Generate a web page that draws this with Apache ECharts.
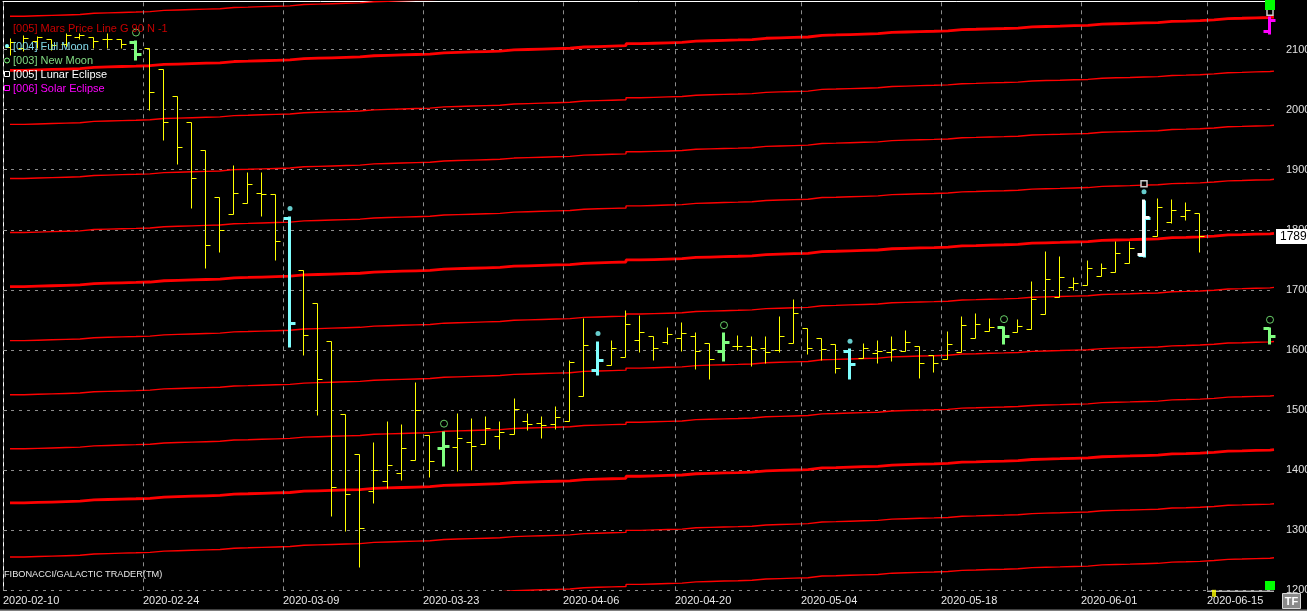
<!DOCTYPE html>
<html><head><meta charset="utf-8">
<script src="https://cdn.jsdelivr.net/npm/echarts@6/dist/echarts.min.js"></script>
<style>html,body{margin:0;padding:0;background:#000;}#c{width:1307px;height:611px;}</style>
</head><body><div id="c"></div>
<script>
// ---- trading-day slots (one per bar) ----
const dates = [
 '2020-02-10','2020-02-11','2020-02-12','2020-02-13','2020-02-14',
 '2020-02-17','2020-02-18','2020-02-19','2020-02-20','2020-02-21',
 '2020-02-24','2020-02-25','2020-02-26','2020-02-27','2020-02-28',
 '2020-03-02','2020-03-03','2020-03-04','2020-03-05','2020-03-06',
 '2020-03-09','2020-03-10','2020-03-11','2020-03-12','2020-03-13',
 '2020-03-16','2020-03-17','2020-03-18','2020-03-19','2020-03-20',
 '2020-03-23','2020-03-24','2020-03-25','2020-03-26','2020-03-27',
 '2020-03-30','2020-03-31','2020-04-01','2020-04-02','2020-04-03',
 '2020-04-06','2020-04-07','2020-04-08','2020-04-09',
 '2020-04-14','2020-04-15','2020-04-16','2020-04-17',
 '2020-04-20','2020-04-21','2020-04-22','2020-04-23','2020-04-24',
 '2020-04-27','2020-04-28','2020-04-29','2020-04-30',
 '2020-05-04','2020-05-05','2020-05-06','2020-05-07','2020-05-08',
 '2020-05-11','2020-05-12','2020-05-13','2020-05-14','2020-05-15',
 '2020-05-18','2020-05-19','2020-05-20','2020-05-21','2020-05-22',
 '2020-05-25','2020-05-26','2020-05-27','2020-05-28','2020-05-29',
 '2020-06-01','2020-06-02','2020-06-03','2020-06-04','2020-06-05',
 '2020-06-08','2020-06-09','2020-06-10','2020-06-12',
 '2020-06-15','2020-06-16','2020-06-17','2020-06-18','2020-06-19'
];
const tickLabels = ['2020-02-10','2020-02-24','2020-03-09','2020-03-23','2020-04-06',
  '2020-04-20','2020-05-04','2020-05-18','2020-06-01','2020-06-15'];
const yTicks = {min:1200, max:2180, step:100};

// ---- OHLC bars ----
const opens = [2105,2103,2114,2117,2110,2121,2121,2117,2117,2113,
 2103,2067,2023,1980,1933,1854,1827,1845,1862,1860,
 1820,1733,1678,1615,1493,1427,1365,1382,1395,1417,
 1458,1437,1438,1447,1443,1457,1460,1482,1478,1477,
 1482,1523,1567,1575,1588,1617,1623,1613,1620,1623,
 1611,1598,1606,1607,1603,1600,1612,1637,1620,1610,
 1598,1586,1595,1597,1598,1607,1592,1585,1597,1620,
 1632,1638,1630,1635,1660,1689,1705,1708,1723,1730,
 1745,1759,1789,1813,1823,1828];
const highs = [2119,2125,2123,2118,2127,2128,2121,2127,2118,2115,
 2103,2067,2023,1980,1933,1854,1908,1896,1896,1860,
 1822,1733,1678,1615,1493,1427,1447,1482,1477,1547,
 1458,1464,1495,1487,1490,1482,1520,1495,1490,1507,
 1583,1653,1614,1616,1667,1659,1623,1638,1647,1630,
 1611,1628,1625,1623,1623,1656,1685,1637,1620,1610,
 1601,1611,1616,1624,1634,1607,1592,1632,1656,1662,
 1654,1638,1651,1714,1764,1756,1722,1749,1744,1782,
 1782,1850,1853,1852,1846,1828];
const lows = [2091,2098,2102,2099,2104,2118,2102,2102,2102,2085,
 1999,1950,1910,1837,1737,1763,1827,1845,1823,1750,
 1606,1591,1491,1323,1299,1238,1346,1371,1384,1417,
 1389,1409,1398,1401,1443,1435,1460,1467,1454,1468,
 1482,1523,1560,1575,1588,1596,1584,1610,1599,1568,
 1551,1584,1600,1573,1579,1597,1611,1594,1584,1561,
 1553,1586,1578,1581,1598,1554,1563,1585,1597,1620,
 1632,1612,1630,1635,1660,1689,1699,1708,1723,1730,
 1745,1758,1789,1811,1816,1763];
const closes = [2112,2120,2121,2108,2124,2125,2114,2117,2109,2093,
 2030,1980,1937,1886,1775,1800,1862,1877,1859,1781,
 1645,1625,1552,1372,1360,1303,1400,1408,1437,1500,
 1415,1440,1453,1440,1470,1463,1502,1477,1475,1488,
 1580,1608,1583,1603,1643,1630,1603,1626,1628,1598,
 1585,1614,1607,1602,1596,1623,1662,1604,1602,1570,
 1577,1603,1598,1602,1613,1579,1578,1610,1642,1644,
 1638,1624,1640,1685,1718,1722,1712,1737,1737,1762,
 1770,1822,1838,1833,1833,1789];

// ---- astro events (slot indices) ----
const fullMoonIdx = [20, 42, 60, 81];
const newMoonIdx = [9, 31, 51, 71];
const lunarEclipseIdx = [81];
// projected event bars at the right edge: [slot, open, high, low, close]
const futureSolarBar = [90, 2131, 2155, 2128, 2149];
const futureNewMoonBar = [90, 1637, 1637, 1611, 1624];
const futureLunarMark = [90, 2162];
const currentSlot = 86;
const lastPrice = 1789;

// ---- Mars price line (Mars longitude + 4*360), one value per slot ----
const marsLine = [1705.5,1706.2,1706.9,1707.6,1708.3,1710.4,1711.1,1711.8,1712.4,1713.1,
 1715.2,1715.9,1716.6,1717.3,1718.0,1720.1,1720.7,1721.4,1722.1,1722.8,
 1724.9,1725.6,1726.3,1727.0,1727.7,1729.7,1730.4,1731.1,1731.8,1732.5,
 1734.6,1735.3,1736.0,1736.7,1737.4,1739.4,1740.1,1740.8,1741.5,1742.2,
 1744.3,1745.0,1745.7,1746.4,1749.8,1750.5,1751.2,1751.9,1754.0,1754.7,
 1755.4,1756.0,1756.7,1758.8,1759.5,1760.2,1760.9,1763.7,1764.3,1765.0,
 1765.7,1766.4,1768.5,1769.2,1769.9,1770.5,1771.2,1773.2,1773.8,1774.5,
 1775.1,1775.8,1777.7,1778.4,1779.0,1779.7,1780.3,1782.3,1783.0,1783.6,
 1784.3,1784.9,1786.9,1787.5,1788.2,1789.5,1791.5,1792.1,1792.8,1793.4,1794.1];
const marsOffsets = [-540,-450,-360,-270,-180,-90,0,90,180,270,360,450];

// ---- layout ----
const GRID_LEFT = 3, GRID_RIGHT_X = 1274, SLOT_W = 14;
const X_MAX = (GRID_RIGHT_X - GRID_LEFT) / SLOT_W;
const FONT = "'Liberation Sans', Arial, sans-serif";

const KIND_STYLE = {
  0: {color:'#ffff00', width:1, tick:5},
  1: {color:'#80ffff', width:3, tick:6},
  2: {color:'#80ff80', width:3, tick:6},
  3: {color:'#ffffff', width:3, tick:6, under:'#80ffff'},
  4: {color:'#ff00ff', width:3, tick:6}
};
function kindOf(i){
  if (lunarEclipseIdx.includes(i)) return 3;
  if (fullMoonIdx.includes(i)) return 1;
  if (newMoonIdx.includes(i)) return 2;
  return 0;
}
const ohlcData = opens.map((o,i)=>[i+0.5, o, highs[i], lows[i], closes[i], kindOf(i)]);
ohlcData.push([futureSolarBar[0]+0.5, futureSolarBar[1], futureSolarBar[2], futureSolarBar[3], futureSolarBar[4], 4]);
ohlcData.push([futureNewMoonBar[0]+0.5, futureNewMoonBar[1], futureNewMoonBar[2], futureNewMoonBar[3], futureNewMoonBar[4], 2]);

function renderItem(params, api){
  const x = api.value(0);
  const st = KIND_STYLE[api.value(5)];
  const pH = api.coord([x, api.value(2)]), pL = api.coord([x, api.value(3)]);
  const pO = api.coord([x, api.value(1)]), pC = api.coord([x, api.value(4)]);
  const snap = v => Math.round(v) + 0.5;
  const cx = snap(pH[0] - 0.5);
  const yh = snap(pH[1]), yl = snap(pL[1]), yo = snap(pO[1]), yc = snap(pC[1]);
  const w = st.width, t = st.tick, ext = w > 1 ? 1 : 0;
  const mk = (dx, dy, color) => [
    {type:'line', shape:{x1:cx+dx, y1:yh+dy-ext, x2:cx+dx, y2:yl+dy+ext}, style:{stroke:color, lineWidth:w}},
    {type:'line', shape:{x1:cx+dx-t, y1:yo+dy, x2:cx+dx, y2:yo+dy}, style:{stroke:color, lineWidth:w}},
    {type:'line', shape:{x1:cx+dx, y1:yc+dy, x2:cx+dx+t, y2:yc+dy}, style:{stroke:color, lineWidth:w}}
  ];
  let children = [];
  if (st.under) children = children.concat(mk(1, 1, st.under));
  children = children.concat(mk(0, 0, st.color));
  return {type:'group', children};
}

const marsSeries = marsOffsets.map(off => {
  const pts = marsLine.map((v,i)=>[i+0.5, v+off]);
  pts.push([X_MAX, marsLine[marsLine.length-1]+off]);
  const thick = off % 360 === 0;
  return {
    type:'line', data:pts, step:'end', symbol:'none', z:2, silent:true,
    lineStyle:{color:'#ff0000', width: thick ? 2.8 : 1.4}
  };
});

const chart = echarts.init(document.getElementById('c'), null, {renderer:'canvas'});
chart.setOption({
  backgroundColor:'#000000',
  animation:false,
  grid:{left:GRID_LEFT, right:1307-GRID_RIGHT_X, top:1.5, bottom:20.7, containLabel:false, outerBoundsMode:'none'},
  xAxis:[{
    type:'value', min:0, max:X_MAX, interval:1,
    axisLine:{show:false}, axisTick:{show:false}, splitLine:{show:false},
    axisLabel:{
      show:true, align:'left', margin:5, color:'#e8e8e8', fontSize:11, fontFamily:FONT,
      showMaxLabel:false, hideOverlap:false,
      formatter:(v)=>{
        const i = Math.round(v);
        if (Math.abs(v-i) > 1e-6) return '';
        const d = dates[i];
        return tickLabels.includes(d) ? d : '';
      }
    }
  },{
    type:'value', min:0, max:X_MAX, position:'top',
    axisLine:{show:true, lineStyle:{color:'#ffffff', width:1}},
    axisTick:{show:false}, axisLabel:{show:false}, splitLine:{show:false}
  }],
  yAxis:{
    type:'value', position:'right', min:yTicks.min, max:yTicks.max, interval:yTicks.step,
    axisLine:{show:true, lineStyle:{color:'#ffffff', width:1}},
    axisTick:{show:true, length:4, lineStyle:{color:'#a0a0a0'}},
    axisLabel:{color:'#e0e0e0', fontSize:11, fontFamily:FONT, margin:12, showMaxLabel:false,
      formatter:(v)=>String(v)},
    splitLine:{show:true, lineStyle:{color:'#8c8c8c', type:[3,5], width:1}}
  },
  series:[
    {
      type:'line', z:1, clip:false, symbol:'none', silent:true,
      data:[[currentSlot, 1198.5],[X_MAX, 1198.5]],
      lineStyle:{color:'#ffffff', width:1},
      markLine:{
        silent:true, symbol:['none','none'], animation:false,
        data: tickLabels.map(d => ({
          xAxis: dates.indexOf(d),
          lineStyle:{color:'#8c8c8c', type:[4,4], width:1},
          label:{show:false}
        }))
      }
    },
    {
      type:'line', z:6, clip:false, symbol:'none', silent:true,
      data:[[0, lastPrice],[X_MAX, lastPrice]],
      lineStyle:{color:'rgba(0,0,0,0)', width:0},
      endLabel:{show:true, formatter:String(lastPrice), distance:2,
        color:'#000000', backgroundColor:'#ffffff', padding:[2,6,1,4],
        fontSize:12, fontFamily:FONT}
    },
    ...marsSeries,
    {
      type:'custom', z:3, renderItem, data:ohlcData, encode:{x:0, y:[2,3]}, silent:true, clip:false
    },
    {
      type:'scatter', z:4, silent:true, clip:false,
      data: fullMoonIdx.map(i => [i+0.5, highs[i]]),
      symbol:'circle', symbolSize:5, symbolOffset:[0,-8],
      itemStyle:{color:'#80ffff'}
    },
    {
      type:'scatter', z:4, silent:true, clip:false,
      data: newMoonIdx.map(i => [i+0.5, highs[i]]).concat([[futureNewMoonBar[0]+0.5, futureNewMoonBar[2]]]),
      symbol:'circle', symbolSize:7, symbolOffset:[0,-8],
      itemStyle:{color:'rgba(0,0,0,0)', borderColor:'#80ff80', borderWidth:1}
    },
    {
      type:'scatter', z:5, silent:true, clip:false,
      data: lunarEclipseIdx.map(i => ({value:[i+0.5, highs[i]], symbolOffset:[0,-16]}))
        .concat([{value:[futureLunarMark[0]+0.5, futureLunarMark[1]], symbolOffset:[0,0]}]),
      symbol:'rect', symbolSize:6,
      itemStyle:{color:'#000000', borderColor:'#ffffff', borderWidth:1.5}
    },
    {
      type:'scatter', z:5, silent:true, clip:false,
      data:[[currentSlot+0.5, yTicks.min]],
      symbol:'rect', symbolSize:[4,7], symbolOffset:[0,3],
      itemStyle:{color:'#ffff00'}
    }
  ],
  graphic:[
    {type:'text', x:13, y:28.5, z:10, style:{text:'[005] Mars Price Line G 90 N -1', fill:'#c80000', font:'11px '+FONT, verticalAlign:'middle'}},
    {type:'circle', z:10, shape:{cx:7, cy:46, r:2}, style:{fill:'#80ffff'}},
    {type:'text', x:13, y:46.5, z:10, style:{text:'[004] Full Moon', fill:'#80d8e8', font:'11px '+FONT, verticalAlign:'middle'}},
    {type:'circle', z:10, shape:{cx:7, cy:60.5, r:2.5}, style:{fill:'none', stroke:'#80ff80', lineWidth:1}},
    {type:'text', x:13, y:60.5, z:10, style:{text:'[003] New Moon', fill:'#80d880', font:'11px '+FONT, verticalAlign:'middle'}},
    {type:'rect', z:10, shape:{x:4.5, y:71.5, width:5, height:5}, style:{fill:'#000', stroke:'#ffffff', lineWidth:1}},
    {type:'text', x:13, y:74.5, z:10, style:{text:'[005] Lunar Eclipse', fill:'#ffffff', font:'11px '+FONT, verticalAlign:'middle'}},
    {type:'rect', z:10, shape:{x:4.5, y:85.5, width:5, height:5}, style:{fill:'#000', stroke:'#ff00ff', lineWidth:1}},
    {type:'text', x:13, y:88.5, z:10, style:{text:'[006] Solar Eclipse', fill:'#ff00ff', font:'11px '+FONT, verticalAlign:'middle'}},
    {type:'text', x:4, y:574, z:10, style:{text:'FIBONACCI/GALACTIC TRADER(TM)', fill:'#e8e8e8', font:'9.2px '+FONT, verticalAlign:'middle'}},
    {type:'rect', z:10, shape:{x:1265, y:0, width:10, height:10}, style:{fill:'#00ff00'}},
    {type:'rect', z:10, shape:{x:1265, y:581, width:10, height:9}, style:{fill:'#00ff00'}},
    {type:'rect', z:10, shape:{x:1282.5, y:593.5, width:18, height:15}, style:{fill:'#8a8a8a', stroke:'#d8d8d8', lineWidth:1}},
    {type:'text', x:1291.5, y:601.5, z:11, style:{text:'TF', fill:'#ffffff', font:'bold 11px '+FONT, align:'center', verticalAlign:'middle'}},
    {type:'rect', z:10, shape:{x:0, y:609.5, width:1307, height:1.5}, style:{fill:'#808080'}}
  ]
});
</script></body></html>
